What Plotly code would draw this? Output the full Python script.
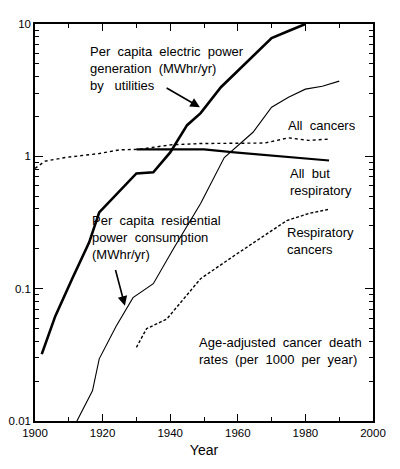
import plotly.graph_objects as go

# Per capita electric power generation by utilities (MWhr/yr)
gen_years = [1902, 1906, 1911, 1916, 1919, 1930, 1935, 1940, 1945, 1949, 1955, 1964, 1970, 1975, 1980]
gen_vals = [0.032, 0.062, 0.119, 0.223, 0.377, 0.743, 0.757, 1.07, 1.72, 2.12, 3.33, 5.52, 7.83, 8.85, 10.0]

# Per capita residential power consumption (MWhr/yr)
res_years = [1912.4, 1917, 1919, 1924, 1929, 1935, 1941, 1949, 1956, 1964.5, 1970, 1975, 1980, 1985, 1990]
res_vals = [0.01, 0.0169, 0.0295, 0.052, 0.0855, 0.109, 0.201, 0.44, 0.98, 1.52, 2.35, 2.8, 3.22, 3.39, 3.70]

# Age-adjusted cancer death rates (per 1000 per year)
all_years = [1900, 1903, 1909, 1919, 1925, 1931, 1936, 1940, 1949, 1968, 1975, 1981, 1987]
all_vals = [0.81, 0.92, 0.98, 1.05, 1.12, 1.13, 1.18, 1.22, 1.25, 1.26, 1.38, 1.32, 1.35]

nonresp_years = [1930, 1950, 1959, 1987]
nonresp_vals = [1.13, 1.13, 1.07, 0.93]

resp_years = [1930, 1933, 1939, 1949, 1959, 1967.5, 1974.5, 1981, 1987]
resp_vals = [0.036, 0.0498, 0.059, 0.119, 0.178, 0.25, 0.327, 0.37, 0.398]

fig = go.Figure()
fig.add_trace(go.Scatter(x=gen_years, y=gen_vals, mode="lines",
                         line=dict(color="black", width=2.6)))
fig.add_trace(go.Scatter(x=res_years, y=res_vals, mode="lines",
                         line=dict(color="black", width=1.1)))
fig.add_trace(go.Scatter(x=all_years, y=all_vals, mode="lines",
                         line=dict(color="black", width=1.4, dash="dot")))
fig.add_trace(go.Scatter(x=nonresp_years, y=nonresp_vals, mode="lines",
                         line=dict(color="black", width=2.2)))
fig.add_trace(go.Scatter(x=resp_years, y=resp_vals, mode="lines",
                         line=dict(color="black", width=1.4, dash="3px,2px")))

txt = dict(color="black", size=13, family="Liberation Sans, Arial, sans-serif")
labels = [
    (1915.7, 0.667, "Per  capita  electric  power<br>generation  (MWhr/yr)<br>by   utilities"),
    (1916.3, -0.614, "Per  capita  residential<br>power  consumption<br>(MWhr/yr)"),
    (1974.3, 0.235, "All  cancers"),
    (1974.9, -0.197, "All  but<br>respiratory"),
    (1974.0, -0.636, "Respiratory<br>cancers"),
    (1947.9, -1.47, "Age-adjusted  cancer  death<br>rates  (per  1000  per  year)"),
]
for x, y, t in labels:
    fig.add_annotation(x=x, y=y, xref="x", yref="y", text=t, showarrow=False,
                       xanchor="left", yanchor="middle", align="left", font=txt)

# arrows pointing at the two power curves
for hx, hy, tx, ty in [(1948.8, 0.371, 1938.5, 0.523), (1926.6, -1.129, 1923.7, -0.848)]:
    fig.add_annotation(x=hx, y=hy, ax=tx, ay=ty, xref="x", yref="y", axref="x", ayref="y",
                       text="", showarrow=True, arrowhead=2, arrowsize=1.2,
                       arrowwidth=1.6, arrowcolor="black")

# page has an 8px body margin, so the figure is a bit smaller than the window
fig.update_layout(
    width=392, height=461,
    margin=dict(l=27, r=27, t=16, b=48),
    paper_bgcolor="white", plot_bgcolor="white",
    showlegend=False,
    font=dict(family="Liberation Sans, Arial, sans-serif", size=11.5, color="black"),
    xaxis=dict(range=[1900, 2000], dtick=20, automargin=False,
               ticks="inside", ticklen=7, tickwidth=1, tickcolor="black",
               showline=True, linecolor="black", linewidth=1.5, mirror="ticks",
               minor=dict(ticks="inside", dtick=10, ticklen=4, tickwidth=1, tickcolor="black"),
               title=dict(text="Year", standoff=8)),
    yaxis=dict(type="log", range=[-2, 1], dtick=1, automargin=False,
               ticks="inside", ticklen=8, tickwidth=1, tickcolor="black",
               showline=True, linecolor="black", linewidth=1.5, mirror="ticks",
               minor=dict(ticks="inside", dtick="D1", ticklen=4, tickwidth=1, tickcolor="black")),
)

fig.write_html("out.html")
